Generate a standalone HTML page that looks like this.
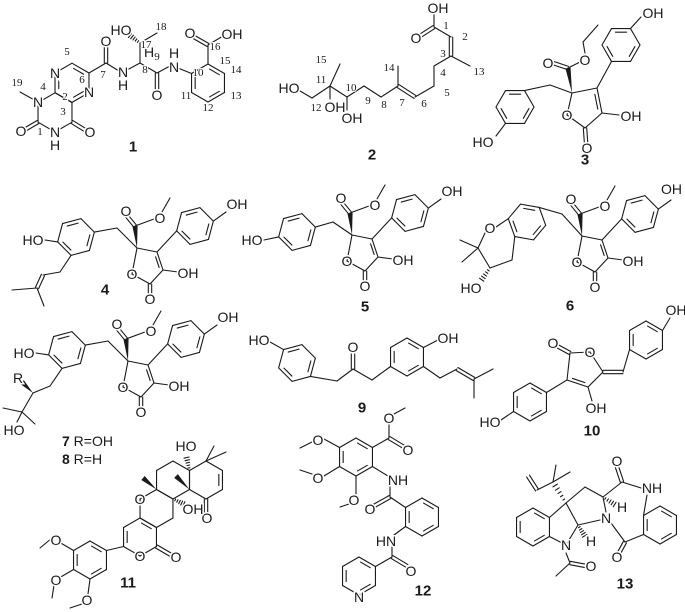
<!DOCTYPE html>
<html><head><meta charset="utf-8"><style>
html,body{margin:0;padding:0;background:#fff;}
svg{display:block;}
text{fill:#1a1a1a;stroke:#fff;stroke-width:3px;paint-order:stroke;dominant-baseline:central;text-anchor:middle;}
.a{font:14px "Liberation Sans",sans-serif;}
.n{font:11px "Liberation Serif",serif;stroke-width:2px;}
.b{font:bold 15px "Liberation Sans",sans-serif;}
.l{font:14px "Liberation Sans",sans-serif;text-anchor:start;}
</style></head><body>
<svg id="s" width="685" height="612" viewBox="0 0 685 612" xmlns="http://www.w3.org/2000/svg">
<g id="g" stroke="#1a1a1a" stroke-width="1.1" fill="none" stroke-linecap="round"></g>
<g id="t">
<text class="a" x="55" y="73">N</text><text class="a" x="89" y="92">N</text>
<text class="a" x="38" y="102">N</text><text class="a" x="55" y="132">N</text><text class="a" x="55" y="145">H</text>
<text class="a" x="21" y="131">O</text><text class="a" x="90" y="132">O</text>
<text class="a" x="106" y="41">O</text><text class="a" x="123" y="72">N</text><text class="a" x="123" y="85">H</text>
<text class="a" x="121" y="30">HO</text><text class="a" x="174" y="67">N</text><text class="a" x="174" y="53">H</text>
<text class="a" x="157" y="95">O</text><text class="a" x="190" y="33">O</text><text class="a" x="232" y="34">OH</text>
<text class="a" x="149" y="52">H</text>
<text class="n" x="17" y="83">19</text><text class="n" x="43" y="87">4</text><text class="n" x="40" y="132">1</text>
<text class="n" x="65" y="97">2</text><text class="n" x="63" y="112">3</text><text class="n" x="67" y="52">5</text>
<text class="n" x="82" y="80">6</text><text class="n" x="103" y="75">7</text><text class="n" x="145" y="70">8</text>
<text class="n" x="146" y="45">17</text><text class="n" x="161" y="27">18</text><text class="n" x="157" y="57">9</text>
<text class="n" x="198" y="73">10</text><text class="n" x="225" y="61">15</text><text class="n" x="215" y="47">16</text>
<text class="n" x="236" y="70">14</text><text class="n" x="236" y="96">13</text><text class="n" x="208" y="108">12</text>
<text class="n" x="186" y="96">11</text>
<text class="b" x="133" y="147">1</text>
<text class="a" x="289" y="88">HO</text><text class="a" x="335" y="107">OH</text><text class="a" x="352" y="118">OH</text>
<text class="a" x="438" y="8">OH</text><text class="a" x="416" y="38">O</text>
<text class="n" x="321" y="60">15</text><text class="n" x="321" y="80">11</text><text class="n" x="316" y="108">12</text>
<text class="n" x="351" y="88">10</text><text class="n" x="368" y="101">9</text><text class="n" x="384" y="105">8</text>
<text class="n" x="402" y="103">7</text><text class="n" x="424" y="104">6</text><text class="n" x="447" y="93">5</text>
<text class="n" x="443" y="73">4</text><text class="n" x="443" y="54">3</text><text class="n" x="479" y="72">13</text>
<text class="n" x="389" y="68">14</text><text class="n" x="446" y="26">1</text><text class="n" x="465" y="37">2</text>
<text class="b" x="372" y="155">2</text>
<text class="a" x="567" y="115">O</text><text class="a" x="631" y="116">OH</text><text class="a" x="587" y="148">O</text>
<text class="a" x="548" y="63">O</text><text class="a" x="585" y="60">O</text><text class="a" x="653" y="13">OH</text>
<text class="a" x="483" y="142">HO</text>
<text class="b" x="585" y="160">3</text>
<text class="a" x="33" y="240">HO</text><text class="a" x="132" y="274">O</text><text class="a" x="188" y="273">OH</text>
<text class="a" x="150" y="299">O</text><text class="a" x="126" y="211">O</text><text class="a" x="160" y="218">O</text>
<text class="a" x="237" y="204">OH</text>
<text class="b" x="105" y="290">4</text>
<text class="a" x="24" y="353">HO</text><text class="a" x="123" y="387">O</text><text class="a" x="179" y="386">OH</text>
<text class="a" x="141" y="412">O</text><text class="a" x="117" y="324">O</text><text class="a" x="151" y="331">O</text>
<text class="a" x="228" y="317">OH</text><text class="a" x="18" y="378">R</text><text class="a" x="14" y="430">HO</text>
<text class="l" x="62" y="441"><tspan font-weight="bold">7</tspan> R=OH</text>
<text class="l" x="62" y="459"><tspan font-weight="bold">8</tspan> R=H</text>
<text class="a" x="252" y="240">HO</text><text class="a" x="347" y="261">O</text><text class="a" x="403" y="260">OH</text>
<text class="a" x="365" y="286">O</text><text class="a" x="341" y="198">O</text><text class="a" x="375" y="205">O</text>
<text class="a" x="452" y="191">OH</text>
<text class="b" x="365" y="307">5</text>
<text class="a" x="490" y="228">O</text><text class="a" x="471" y="288">HO</text>
<text class="a" x="577" y="262">O</text><text class="a" x="633" y="261">OH</text>
<text class="a" x="595" y="287">O</text><text class="a" x="571" y="199">O</text><text class="a" x="605" y="206">O</text>
<text class="a" x="682" y="189" style="text-anchor:end">OH</text>
<text class="b" x="570" y="306">6</text>
<text class="a" x="259" y="340">HO</text><text class="a" x="353" y="347">O</text><text class="a" x="448" y="338">OH</text>
<text class="b" x="362" y="408">9</text>
<text class="a" x="553" y="343">O</text><text class="a" x="590" y="352">O</text><text class="a" x="596" y="408">OH</text>
<text class="a" x="676" y="310">OH</text><text class="a" x="490" y="422">HO</text>
<text class="b" x="592" y="431">10</text>
<text class="a" x="56" y="540">O</text><text class="a" x="56" y="580">O</text><text class="a" x="87" y="600">O</text>
<text class="a" x="140" y="556">O</text><text class="a" x="176" y="557">O</text><text class="a" x="140" y="499">O</text>
<text class="a" x="207" y="518">O</text><text class="a" x="186" y="446">HO</text><text class="a" x="193" y="509">OH</text>
<text class="b" x="128" y="583">11</text>
<text class="a" x="408" y="450">O</text><text class="a" x="389" y="418">O</text><text class="a" x="398" y="480">NH</text>
<text class="a" x="370" y="509">O</text><text class="a" x="386" y="541">HN</text><text class="a" x="411" y="571">O</text>
<text class="a" x="318" y="440">O</text><text class="a" x="318" y="478">O</text><text class="a" x="354" y="500">O</text>
<text class="a" x="359" y="597">N</text>
<text class="b" x="423" y="591">12</text>
<text class="a" x="566" y="545">N</text><text class="a" x="606" y="518">N</text><text class="a" x="591" y="566">O</text>
<text class="a" x="591" y="541">H</text><text class="a" x="622" y="507">H</text><text class="a" x="617" y="461">O</text>
<text class="a" x="652" y="488">NH</text><text class="a" x="617" y="557">O</text>
<text class="b" x="625" y="584">13</text>
</g>
</svg>
<script>
var G=document.getElementById('g'),NS='http://www.w3.org/2000/svg';
function ln(a,b,c,d){var e=document.createElementNS(NS,'line');e.setAttribute('x1',a);e.setAttribute('y1',b);e.setAttribute('x2',c);e.setAttribute('y2',d);G.appendChild(e);}
function pl(p){for(var i=0;i<p.length-2;i+=2)ln(p[i],p[i+1],p[i+2],p[i+3]);}
function db(a,b,c,d){var dx=c-a,dy=d-b,L=Math.hypot(dx,dy),nx=-dy/L*1.7,ny=dx/L*1.7;ln(a+nx,b+ny,c+nx,d+ny);ln(a-nx,b-ny,c-nx,d-ny);}
function inner(a,b,c,d,cx,cy){var f=0.78;var x1=cx+(a-cx)*f,y1=cy+(b-cy)*f,x2=cx+(c-cx)*f,y2=cy+(d-cy)*f;var t=0.12;ln(x1+(x2-x1)*t,y1+(y2-y1)*t,x2-(x2-x1)*t,y2-(y2-y1)*t);}
function hex(cx,cy,r,rot,dl){var v=[];for(var i=0;i<6;i++){var a=(rot+60*i)*Math.PI/180;v.push([cx+r*Math.cos(a),cy+r*Math.sin(a)]);}
for(i=0;i<6;i++){var p=v[i],q=v[(i+1)%6];ln(p[0],p[1],q[0],q[1]);}
(dl||[]).forEach(function(e){var p=v[e],q=v[(e+1)%6];inner(p[0],p[1],q[0],q[1],cx,cy);});return v;}
function wedge(a,b,c,d){var dx=c-a,dy=d-b,L=Math.hypot(dx,dy),nx=-dy/L*2.6,ny=dx/L*2.6;var e=document.createElementNS(NS,'polygon');e.setAttribute('points',a+','+b+' '+(c+nx)+','+(d+ny)+' '+(c-nx)+','+(d-ny));e.setAttribute('fill','#1a1a1a');e.setAttribute('stroke','none');G.appendChild(e);}
function hash(a,b,c,d){var dx=c-a,dy=d-b,L=Math.hypot(dx,dy),nx=-dy/L,ny=dx/L;for(var k=1;k<=5;k++){var t=k/6,w=0.6+2.4*t,x=a+dx*t,y=b+dy*t;ln(x-nx*w,y-ny*w,x+nx*w,y+ny*w);}}
function cyc(p){pl(p.concat([p[0],p[1]]));}
var v,w,u;
hex(55,112.4,19.6,-90,[]);hex(72,82.8,19.6,-90,[0,2,4]);
ln(38,102,20,92);db(38,122,26,129);db(72,122,85,130);
pl([89,73,106,63]);db(106,63,106,47);pl([106,63,119,71]);pl([127,70,140,63,140,43]);hash(140,43,128,34);ln(140,43,157,33);
pl([140,63,157,73]);db(157,73,157,89);pl([157,73,170,66]);
v=hex(208,83,19,-90,[0,2,4]);ln(178,68,v[5][0],v[5][1]);ln(208,64,208,45);db(208,45,194,37);ln(208,45,223,36);
pl([300,91,312,98,330,86,347,97,364,86,381,97,398,86]);db(398,86,415,97);pl([415,97,434,86,434,66,451,56,470,66]);
db(451,56,451,37);pl([451,37,434,27,434,13]);db(434,27,420,36);ln(398,86,398,66);ln(330,86,340,64);ln(330,86,330,99);ln(347,97,347,110);
cyc([572,93,597,88,602,113,585,128,567,115]);inner(597,88,602,113,585,106);ln(602,113,619,115);db(585,128,586,142);
wedge(572,93,568,68);db(568,68,553,63);pl([568,68,582,61]);pl([585,53,583,42,598,25]);
v=hex(621,45,19,0,[0,2,4]);ln(597,88,v[2][0],v[2][1]);ln(v[5][0],v[5][1],641,17);
v=hex(515,107,19,0,[0,2,4]);pl([v[5][0],v[5][1],550,85,572,93]);ln(v[2][0],v[2][1],496,136);
function core(dx,dy){var C2=[137+dx,248+dy],C3=[157+dx,252+dy],C4=[163+dx,270+dy],C5=[150+dx,284+dy],O1=[132+dx,274+dy];
cyc([C2[0],C2[1],C3[0],C3[1],C4[0],C4[1],C5[0],C5[1],O1[0],O1[1]]);inner(C3[0],C3[1],C4[0],C4[1],148+dx,266+dy);
ln(C4[0],C4[1],178+dx,272+dy);db(C5[0],C5[1],150+dx,294+dy);wedge(C2[0],C2[1],135+dx,226+dy);db(135+dx,226+dy,126+dx,215+dy);
ln(135+dx,226+dy,154+dx,219+dy);ln(162+dx,212+dy,170+dx,198+dy);
var p=hex(195+dx,226+dy,19,-15,[0,2,4]);ln(C3[0],C3[1],p[3][0],p[3][1]);ln(p[0][0],p[0][1],226+dx,212+dy);}
function lring(dx,dy){var p=hex(76+dx,237+dy,19,-15,[0,2,4]);pl([p[0][0],p[0][1],117+dx,228+dy,137+dx,248+dy]);ln(p[3][0],p[3][1],45+dx,240+dy);return p;}
core(0,0);v=lring(0,0);pl([v[2][0],v[2][1],60,272,43,275]);db(43,275,37,288);ln(37,288,12,290);ln(37,288,44,306);
core(-9,113);v=lring(-9,113);pl([v[2][0],v[2][1],50,386,33,393]);wedge(33,393,22,382);pl([33,393,22,412,35,424]);ln(22,412,3,408);ln(22,412,17,422);
core(215,-13);v=hex(297,232,19,-15,[0,2,4]);pl([v[0][0],v[0][1],333,222,352,235]);ln(v[3][0],v[3][1],264,240);
core(445,-12);v=hex(527,222,19,10,[0,2,4]);pl([v[3][0],v[3][1],496,227]);pl([485,233,478,248,490,268,512,260,v[2][0],v[2][1]]);
ln(478,248,460,240);ln(478,248,462,262);hash(490,268,480,282);pl([v[5][0],v[5][1],562,214,582,236]);
v=hex(297,363,19,-15,[0,2,4]);ln(v[4][0],v[4][1],270,342);pl([v[1][0],v[1][1],337,381,353,369]);db(353,369,353,354);
w=hex(407,357,19,-90,[0,2,4]);pl([353,369,372,380,w[4][0],w[4][1]]);ln(w[1][0],w[1][1],438,340);
pl([w[2][0],w[2][1],440,378,457,369]);db(457,369,474,379);ln(474,379,493,369);ln(474,379,474,398);
cyc([570,353,590,352,603,372,588,387,567,380]);inner(567,380,588,387,583,370);db(570,353,557,346);ln(588,387,592,401);
db(603,372,623,372);v=hex(646,340,19,-90,[0,2,4]);ln(623,372,v[4][0],v[4][1]);ln(v[1][0],v[1][1],670,318);
w=hex(530,402,19,-90,[0,2,4]);ln(567,380,w[1][0],w[1][1]);ln(w[4][0],w[4][1],501,420);
v=hex(90,560,19,-90,[0,2,4]);ln(v[5][0],v[5][1],59,542);ln(52,538,40,548);ln(v[4][0],v[4][1],59,578);ln(54,585,52,598);
ln(v[3][0],v[3][1],88,594);ln(82,604,70,608);
w=hex(140,537,19,-90,[0,4]);ln(v[1][0],v[1][1],w[4][0],w[4][1]);db(w[2][0],w[2][1],171,555);
hex(156.5,508.5,19,-90,[]);hex(173,480,19,-90,[]);u=hex(206,480,19,-90,[1]);
db(206,499,206,513);ln(206,461,214,446);ln(206,461,226,452);hash(189.5,470.5,186,455);wedge(189.5,489.5,176,476);wedge(156.5,489.5,143,478);hash(173,499,186,505);
v=hex(356,457,19,-90,[0,2,4]);ln(v[1][0],v[1][1],389,438);db(389,438,404,447);ln(389,438,389,424);ln(394,414,405,408);
ln(v[2][0],v[2][1],388,476);ln(v[5][0],v[5][1],324,439);ln(312,442,300,448);ln(v[4][0],v[4][1],324,476);ln(312,474,300,470);
ln(v[3][0],v[3][1],356,494);ln(349,504,340,507);
w=hex(422,517,19,-90,[0,2,4]);pl([390,486,390,497,w[5][0],w[5][1]]);db(390,497,374,506);
ln(w[4][0],w[4][1],394,535);u=hex(359,576,19,-90,[0,2,4]);pl([392,547,392,557,u[1][0],u[1][1]]);db(392,557,407,566);
v=hex(533,527,19,-90,[0,2,4]);pl([v[1][0],v[1][1],566,503,578,525,566,545,v[2][0],v[2][1]]);
pl([566,553,570,563,556,576]);db(570,563,586,566);hash(578,525,586,538);
pl([566,503,585,487,603,497,606,512]);ln(600,520,578,525);hash(603,497,617,506);
pl([603,497,622,482]);db(622,482,617,467);ln(622,482,641,488);
w=hex(660,525,19,-90,[0,2,4]);ln(647,495,w[5][0],w[5][1]);pl([w[4][0],w[4][1],625,542,611,523]);db(625,542,619,553);
hash(566,503,553,482);ln(553,482,570,472);ln(553,482,556,465);ln(553,482,537,490);db(537,490,528,476);
</script>
</body></html>
